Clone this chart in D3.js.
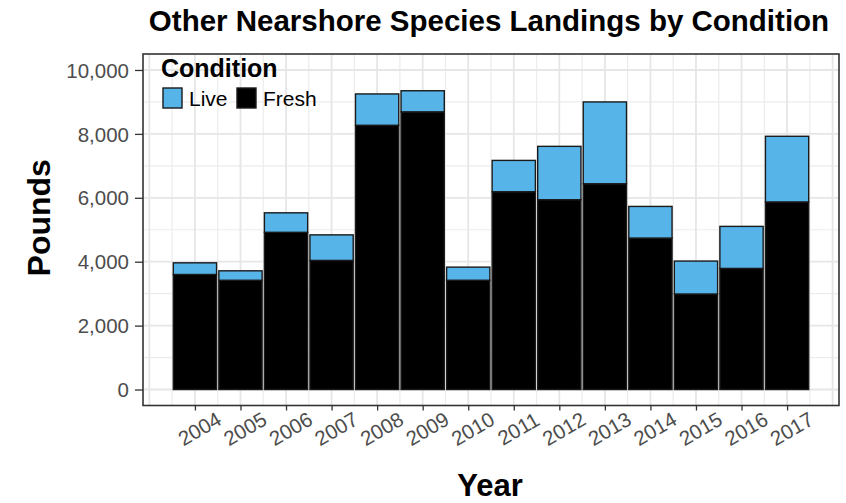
<!DOCTYPE html>
<html><head><meta charset="utf-8">
<script src="https://cdn.jsdelivr.net/npm/d3@7"></script>
<style>body{margin:0;background:#fff}svg{display:block}text{font-family:"Liberation Sans",Arial,sans-serif}</style>
</head><body><svg id="c" width="846" height="503"></svg>
<script>
const years = [2004,2005,2006,2007,2008,2009,2010,2011,2012,2013,2014,2015,2016,2017];
const fresh = [3600,3420,4920,4040,8270,8690,3420,6190,5940,6440,4740,2990,3790,5870];
const live  = [365,295,610,800,980,660,410,980,1670,2560,990,1030,1315,2055];
const conditions = ["Live","Fresh"];
const colors = ["#56B4E9","#000000"];
const yTicks = [0,2000,4000,6000,8000,10000];

const svg = d3.select("#c");
const L=143, R=839, T=54, B=405.5;
const x = d3.scaleLinear().domain([2002.86,2018.14]).range([L,R]);
const y = d3.scaleLinear().domain([-500,10500]).range([B,T]);
const bw = 0.95;

// grid
const g = svg.append("g");
d3.range(1000,10001,2000).forEach(v=>g.append("line").attr("x1",L).attr("x2",R).attr("y1",y(v)).attr("y2",y(v)).attr("stroke","#ececec").attr("stroke-width",1.2));
d3.range(2003.5,2018,1).forEach(v=>g.append("line").attr("y1",T).attr("y2",B).attr("x1",x(v)).attr("x2",x(v)).attr("stroke","#ececec").attr("stroke-width",1.2));
yTicks.forEach(v=>g.append("line").attr("x1",L).attr("x2",R).attr("y1",y(v)).attr("y2",y(v)).attr("stroke","#e6e6e6").attr("stroke-width",1.8));
d3.range(2003,2019).forEach(v=>g.append("line").attr("y1",T).attr("y2",B).attr("x1",x(v)).attr("x2",x(v)).attr("stroke","#e6e6e6").attr("stroke-width",1.8));

// bars
const rows = years.map((yr,i)=>({year:yr,Fresh:fresh[i],Live:live[i]}));
const stack = d3.stack().keys(["Fresh","Live"])(rows);
const col = {Live:colors[0],Fresh:colors[1]};
stack.forEach(layer=>{
  svg.append("g").selectAll("rect").data(layer).join("rect")
    .attr("x",d=>x(d.data.year-bw/2)).attr("width",d=>x(d.data.year+bw/2)-x(d.data.year-bw/2))
    .attr("y",d=>y(d[1])).attr("height",d=>y(d[0])-y(d[1]))
    .attr("fill",col[layer.key]).attr("stroke","#1a1a1a").attr("stroke-width",1.4);
});

// panel border
svg.append("rect").attr("x",L).attr("y",T).attr("width",R-L).attr("height",B-T).attr("fill","none").attr("stroke","#333").attr("stroke-width",1.6);

// y axis
const ya = svg.append("g").attr("transform",`translate(${L},0)`)
  .call(d3.axisLeft(y).tickValues(yTicks).tickFormat(d3.format(",")).tickSize(8).tickPadding(6));
ya.select(".domain").remove();
ya.selectAll("line").attr("stroke","#333").attr("stroke-width",1.3);
ya.selectAll("text").attr("font-size",20.5).attr("fill","#4d4d4d").attr("font-family","Liberation Sans, Arial").attr("dy","0.35em");

// x axis
const xa = svg.append("g").attr("transform",`translate(0,${B})`)
  .call(d3.axisBottom(x).tickValues(years).tickFormat(d3.format("d")).tickSize(5));
xa.select(".domain").remove();
xa.selectAll("line").attr("stroke","#333").attr("stroke-width",1.3);
xa.selectAll("text").attr("font-size",20.5).attr("fill","#4d4d4d").attr("font-family","Liberation Sans, Arial")
  .attr("text-anchor","middle").attr("dy",null).attr("y",null)
  .attr("dominant-baseline","central")
  .attr("transform","translate(4,23) rotate(-30)");

// titles
svg.append("text").attr("x",(L+R)/2-2).attr("y",31).attr("text-anchor","middle").attr("font-weight","bold").attr("font-size",29.5).attr("fill","#000").text("Other Nearshore Species Landings by Condition");
svg.append("text").attr("x",(L+R)/2-1).attr("y",496).attr("text-anchor","middle").attr("font-weight","bold").attr("font-size",31).attr("fill","#000").text("Year");
svg.append("text").attr("transform",`translate(50,${(T+B)/2-12}) rotate(-90)`).attr("text-anchor","middle").attr("font-weight","bold").attr("font-size",32).attr("fill","#000").text("Pounds");

// legend
const lg = svg.append("g");
lg.append("text").attr("x",161).attr("y",77).attr("font-weight","bold").attr("font-size",25).attr("fill","#000").text("Condition");
const kx = [163,237];
conditions.forEach((c,i)=>{
  lg.append("rect").attr("x",kx[i]).attr("y",88).attr("width",19).attr("height",20).attr("fill",colors[i]).attr("stroke","#1a1a1a").attr("stroke-width",1.4);
  lg.append("text").attr("x",kx[i]+26).attr("y",106).attr("font-size",21).attr("fill","#000").text(c);
});
</script></body></html>
